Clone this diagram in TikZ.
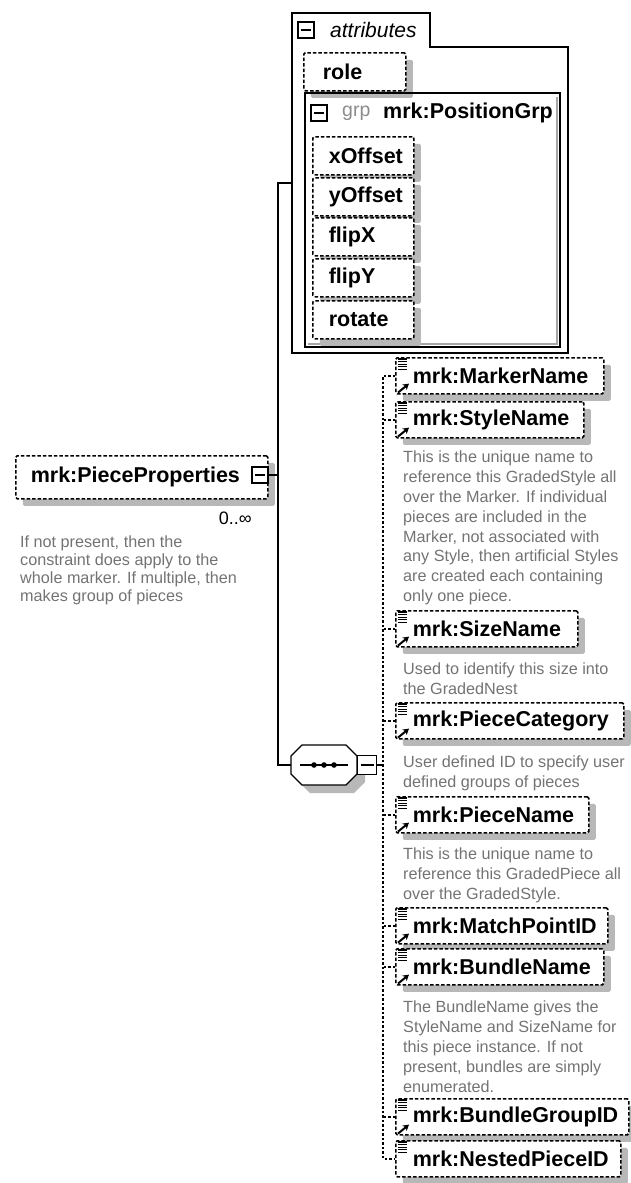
\documentclass[tikz,border=0pt]{standalone}
\usepackage{fontspec}
\setmainfont{Liberation Sans}
\usetikzlibrary{arrows.meta,positioning,shadows}

\newcommand{\elfont}{\fontsize{21.5}{24}\selectfont\bfseries}
\newcommand{\docfont}{\fontsize{16.2}{19.8}\selectfont}

\begin{document}
\begin{tikzpicture}[x=1pt, y=-1pt,
    elem/.style={draw, dash pattern=on 3.5pt off 2pt, line width=1.6pt, rounded corners=1.5pt, fill=white,
      drop shadow={shadow xshift=7pt, shadow yshift=-7pt, opacity=1, fill=black!28},
      font=\elfont, anchor=north west, align=left, inner xsep=0pt, inner ysep=0pt, minimum height=36pt},
    attr/.style={elem, minimum height=38pt, text width=101pt},
    doc/.style={anchor=north west, align=left, inner sep=0pt, font=\docfont, text=black!55},
    minusbox/.style={draw, line width=1.2pt, fill=white, minimum size=16pt, inner sep=0pt,
      path picture={\draw[line width=1.2pt] ([xshift=3pt]path picture bounding box.west) -- ([xshift=-3pt]path picture bounding box.east);}},
    link/.style={line width=1.3pt},
    choice/.style={line width=1.4pt, dash pattern=on 2.5pt off 2pt}
  ]
  \useasboundingbox (0,0) rectangle (630,1183);

  \draw[line width=1.6pt] (292,13) -- (430,13) -- (430,47) -- (568,47) -- (568,353) -- (292,353) -- cycle;
  \node[minusbox, minimum size=16pt] (attrminus) at (306,30) {};
  \node[anchor=west, inner sep=0pt, font=\fontsize{21}{24}\selectfont\itshape] (attrlabel) at (330,30) {attributes};
  \node[attr, text width=102pt] (role) at (303,52) {\hspace*{19pt}role};

  \draw[black!35, line width=2.5pt] (557,97) -- (557,344) -- (308,344);
  \draw[line width=1.1pt] (305,93) rectangle (560,347);
  \node[minusbox, minimum size=16pt] (grpminus) at (319,113) {};
  \node[anchor=west, inner sep=0pt, font=\fontsize{19.5}{22}\selectfont, text=black!45] (grplabel) at (342,113) {grp};
  \node[anchor=west, inner sep=0pt, font=\elfont] (grpname) at (383,113) {mrk:PositionGrp};
  \node[attr] (xoffset) at (312,136) {\hspace*{16pt}xOffset};
  \node[attr] (yoffset) at (312,177) {\hspace*{16pt}yOffset};
  \node[attr] (flipx) at (312,217) {\hspace*{16pt}flipX};
  \node[attr] (flipy) at (312,258) {\hspace*{16pt}flipY};
  \node[attr] (rotate) at (312,300) {\hspace*{16pt}rotate};

  \node[elem, minimum height=43pt, text width=252pt] (pieceprops) at (15,455) {\hspace*{15pt}mrk:PieceProperties};
  \node[minusbox] (ppminus) at (260,475) {};
  \node[anchor=east, inner sep=0pt, font=\fontsize{18}{20}\selectfont] (occurs) at (252,518) {0..∞};
  \node[doc, font=\fontsize{16.2}{18}\selectfont] (ppdoc) at (20,536) {If not present, then the\\constraint does apply to the\\whole marker. If multiple, then\\makes group of pieces};

  \fill[black!28, shift={(8,8)}] (291,756) -- (302,745) -- (346,745) -- (357,756) -- (357,774) -- (346,785) -- (302,785) -- (291,774) -- cycle;
  \draw[line width=1.3pt, fill=white] (291,756) -- (302,745) -- (346,745) -- (357,756) -- (357,774) -- (346,785) -- (302,785) -- (291,774) -- cycle;
  \node[minimum width=66pt, minimum height=40pt, inner sep=0pt] (seq) at (324,765) {};
  \draw[line width=1.3pt] ([xshift=9pt]seq.west) -- ([xshift=-9pt]seq.east);
  \foreach \dx in {-10,0,10}
    \fill ([xshift=\dx pt]seq.center) circle (2.8pt);
  \node[minusbox, minimum width=19pt, minimum height=19pt, anchor=west] (seqminus) at (seq.east) {};

  \node[elem, text width=208pt] (markername) at (395,357) {\hspace*{17pt}mrk:MarkerName};
  \node[elem, text width=188pt] (stylename) at (395,401) {\hspace*{17pt}mrk:StyleName};
  \node[doc] (styledoc) at (403,451) {This is the unique name to\\reference this GradedStyle all\\over the Marker. If individual\\pieces are included in the\\Marker, not associated with\\any Style, then artificial Styles\\are created each containing\\only one piece.};
  \node[elem, text width=182pt] (sizename) at (395,610) {\hspace*{17pt}mrk:SizeName};
  \node[doc] (sizedoc) at (403,663) {Used to identify this size into\\the GradedNest};
  \node[elem, text width=228pt] (piececategory) at (395,702) {\hspace*{17pt}mrk:PieceCategory};
  \node[doc] (catdoc) at (403,756) {User defined ID to specify user\\defined groups of pieces};
  \node[elem, text width=193pt] (piecename) at (395,796) {\hspace*{17pt}mrk:PieceName};
  \node[doc] (namedoc) at (403,848) {This is the unique name to\\reference this GradedPiece all\\over the GradedStyle.};
  \node[elem, text width=212pt] (matchpointid) at (395,907) {\hspace*{17pt}mrk:MatchPointID};
  \node[elem, text width=208pt] (bundlename) at (395,948) {\hspace*{17pt}mrk:BundleName};
  \node[doc] (bundledoc) at (403,1001) {The BundleName gives the\\StyleName and SizeName for\\this piece instance. If not\\present, bundles are simply\\enumerated.};
  \node[elem, text width=233pt] (bundlegroupid) at (395,1098) {\hspace*{17pt}mrk:BundleGroupID};
  \node[elem, text width=225pt] (nestedpieceid) at (395,1140) {\hspace*{17pt}mrk:NestedPieceID};

  \foreach \n in {markername,stylename,sizename,piececategory,piecename,matchpointid,bundlename,bundlegroupid,nestedpieceid}
    \foreach \k in {0,...,4}
      \draw[line width=1.1pt] ([xshift=3pt,yshift=-2pt-\k*2.6pt]\n.north west) -- ++(9pt,0);
  \foreach \n in {markername,stylename,sizename,piececategory,piecename,matchpointid,bundlename,bundlegroupid}
    \draw[-{Stealth[length=6pt,width=7pt]}, line width=2pt] ([xshift=3pt,yshift=2pt]\n.south west) -- ++(11pt,9pt);

  \coordinate (trunktop) at (278,183);
  \coordinate (attrin) at (292,183);
  \draw[link] (ppminus.east) -- (ppminus.east -| trunktop);
  \draw[link] (attrin) -- (trunktop) |- (seq.west);
  \draw[link] (seqminus.east) -- ([xshift=-12pt]seqminus.east -| markername.west);
  \draw[choice] (markername.west) -- ++(-12pt,0) |- (nestedpieceid.west);
  \foreach \n in {stylename,sizename,piececategory,piecename,matchpointid,bundlename,bundlegroupid}
    \draw[choice] (\n.west) -- ++(-12pt,0);
\end{tikzpicture}
\end{document}
